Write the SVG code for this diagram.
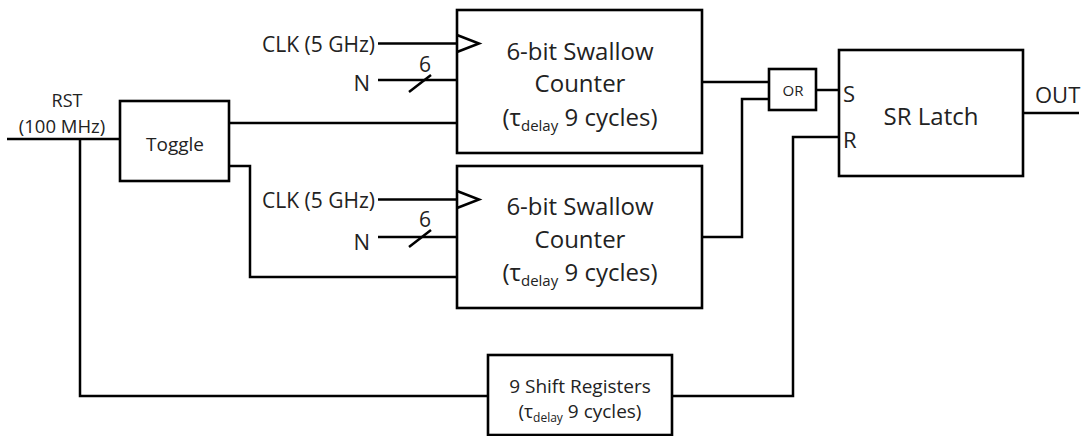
<svg xmlns="http://www.w3.org/2000/svg" width="1086" height="436" viewBox="0 0 1086 436">
<style>
.box{fill:#fff;stroke:#000;stroke-width:2.6}
.w{fill:none;stroke:#000;stroke-width:2.5;stroke-linejoin:miter}
text{font-family:"Open Sans","Noto Sans",sans-serif;fill:#222}
.big{font-size:24px;text-anchor:middle}
.mid{font-size:21px}
.c{text-anchor:middle}
.e{text-anchor:end}
.sub{font-size:15px}
</style>
<rect width="1086" height="436" fill="#fff"/>
<g id="connectors">
<path class="w" d="M7,139H120"/>
<path class="w" d="M80,139V396H488"/>
<path class="w" d="M229,123H457"/>
<path class="w" d="M229,166H250V277H457"/>
<path class="w" d="M378,43.5H457"/>
<path class="w" d="M378,80H457"/>
<path class="w" d="M409,92L431,75"/>
<path class="w" d="M378,199.5H457"/>
<path class="w" d="M378,237H457"/>
<path class="w" d="M409,247L431,230"/>
<path class="w" d="M702,82H769"/>
<path class="w" d="M702,237H742V99H769"/>
<path class="w" d="M816,90H839"/>
<path class="w" d="M672,396H793V137H839"/>
<path class="w" d="M1023,113H1079"/>
</g>
<g id="rst-label">
<text x="67" y="107" font-size="18" class="c">RST</text>
<text x="62" y="133" font-size="18.5" class="c">(100 MHz)</text>
</g>
<g id="toggle">
<rect class="box" x="120" y="101" width="109" height="80"/>
<text x="175" y="151" font-size="19" class="c">Toggle</text>
</g>
<g id="inputs-upper">
<text x="375" y="52" class="mid e">CLK (5 GHz)</text>
<text x="370" y="91" font-size="22" class="e">N</text>
<text x="425" y="72" font-size="21" class="c">6</text>
</g>
<g id="inputs-lower">
<text x="375" y="208" class="mid e">CLK (5 GHz)</text>
<text x="370" y="250" font-size="22" class="e">N</text>
<text x="425" y="227" font-size="21" class="c">6</text>
</g>
<g id="counter-upper">
<rect class="box" x="457" y="10" width="245" height="143"/>
<path class="w" d="M457,35L479,43.5L457,52"/>
<text x="580" y="60" class="big">6-bit Swallow</text>
<text x="580" y="92" class="big">Counter</text>
<text x="580" y="126" class="big">(τ<tspan class="sub" dy="5">delay</tspan><tspan dy="-5"> 9 cycles)</tspan></text>
</g>
<g id="counter-lower">
<rect class="box" x="457" y="166" width="245" height="142"/>
<path class="w" d="M457,191L479,199.5L457,208"/>
<text x="580" y="215" class="big">6-bit Swallow</text>
<text x="580" y="248" class="big">Counter</text>
<text x="580" y="281" class="big">(τ<tspan class="sub" dy="5">delay</tspan><tspan dy="-5"> 9 cycles)</tspan></text>
</g>
<g id="or-gate">
<rect class="box" x="769" y="69" width="47" height="41"/>
<text x="793" y="96" font-size="15" class="c">OR</text>
</g>
<g id="sr-latch">
<rect class="box" x="839" y="50" width="184" height="126"/>
<text x="931" y="125" class="big">SR Latch</text>
<text x="843" y="102" font-size="22">S</text>
<text x="843" y="148" font-size="22">R</text>
</g>
<g id="out-label">
<text x="1035" y="103" font-size="22">OUT</text>
</g>
<g id="shift-registers">
<rect class="box" x="488" y="355" width="184" height="80"/>
<text x="580" y="393" font-size="19" class="c">9 Shift Registers</text>
<text x="580" y="418" font-size="19" class="c">(τ<tspan font-size="12" dy="4">delay</tspan><tspan dy="-4"> 9 cycles)</tspan></text>
</g>
</svg>
